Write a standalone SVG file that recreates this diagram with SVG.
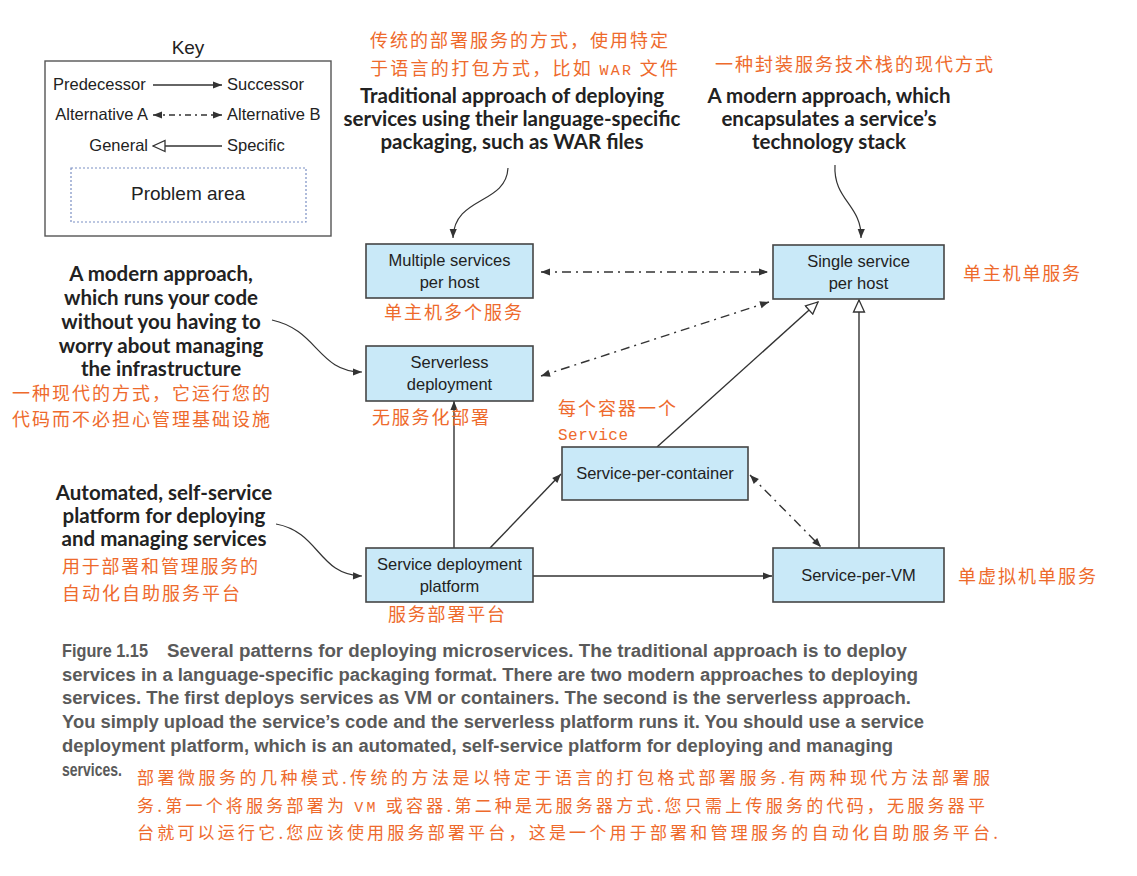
<svg xmlns="http://www.w3.org/2000/svg" width="1137" height="876" viewBox="0 0 1137 876">
<defs>
<style>
.box{fill:#c9e9f8;stroke:#454545;stroke-width:1.6}
.bt{font-family:"Liberation Sans",Arial,sans-serif;font-size:16.5px;fill:#222;text-anchor:middle}
.kt{font-family:"Liberation Sans",Arial,sans-serif;font-size:16.5px;fill:#222}
.ann{font-family:Lato,"Open Sans",sans-serif;font-weight:bold;font-size:20.5px;fill:#222;text-anchor:middle}
.cn{font-family:"Noto Sans CJK SC",sans-serif;font-size:18px;fill:#ee6a2c}
.cnc{font-family:"Noto Sans CJK SC",sans-serif;font-size:17px;fill:#ee6a2c}
.mono{font-family:"Liberation Mono",monospace;font-size:16px;fill:#ee6a2c}
.cap{font-family:"Liberation Sans",Arial,sans-serif;font-weight:bold;font-size:17.5px;fill:#5a5a5a}
.ln{fill:none;stroke:#333;stroke-width:1.4}
.dd{fill:none;stroke:#333;stroke-width:1.4;stroke-dasharray:9 5 2 5}
.cv{fill:none;stroke:#333;stroke-width:1.2}
</style>
<marker id="arr" viewBox="0 0 10 10" refX="10" refY="5" markerWidth="11" markerHeight="9" markerUnits="userSpaceOnUse" orient="auto-start-reverse"><path d="M0,1 L10,5 L0,9 z" fill="#333"/></marker>
<marker id="tri" viewBox="0 0 14 14" refX="13" refY="7" markerWidth="14" markerHeight="14" markerUnits="userSpaceOnUse" orient="auto"><path d="M1,1.5 L13,7 L1,12.5 z" fill="#fff" stroke="#333" stroke-width="1.3"/></marker>
</defs>
<rect width="1137" height="876" fill="#fff"/>

<g id="key">
<text x="188" y="54" class="kt" style="font-size:19px;text-anchor:middle">Key</text>
<rect x="45" y="61" width="286" height="175" fill="#fff" stroke="#555" stroke-width="1.4"/>
<text x="53" y="90" class="kt">Predecessor</text>
<line x1="153" y1="85" x2="222" y2="85" class="ln" marker-end="url(#arr)"/>
<text x="227" y="90" class="kt">Successor</text>
<text x="148" y="120" class="kt" style="text-anchor:end">Alternative A</text>
<line x1="153" y1="115" x2="222" y2="115" class="dd" style="stroke-dasharray:6 4 2 4" marker-start="url(#arr)" marker-end="url(#arr)"/>
<text x="227" y="120" class="kt">Alternative B</text>
<text x="148" y="151" class="kt" style="text-anchor:end">General</text>
<line x1="222" y1="146" x2="153" y2="146" class="ln" marker-end="url(#tri)"/>
<text x="227" y="151" class="kt">Specific</text>
<rect x="71" y="168" width="235" height="54" fill="none" stroke="#7b8fc4" stroke-width="1.2" stroke-dasharray="2 2"/>
<text x="188" y="200" class="kt" style="font-size:19px;text-anchor:middle">Problem area</text>
</g>

<g id="connectors">
<line x1="541" y1="272" x2="768" y2="272" class="dd" marker-start="url(#arr)" marker-end="url(#arr)"/>
<line x1="541" y1="376" x2="769" y2="302" class="dd" marker-start="url(#arr)" marker-end="url(#arr)"/>
<line x1="657" y1="447" x2="818" y2="302" class="ln" marker-end="url(#tri)"/>
<line x1="859" y1="548" x2="859" y2="300" class="ln" marker-end="url(#tri)"/>
<line x1="454" y1="548" x2="454" y2="401" class="ln" marker-end="url(#arr)"/>
<line x1="490" y1="548" x2="561" y2="474" class="ln" marker-end="url(#arr)"/>
<line x1="533" y1="576" x2="772" y2="576" class="ln" marker-end="url(#arr)"/>
<line x1="750" y1="475" x2="821" y2="547" class="dd" marker-start="url(#arr)" marker-end="url(#arr)"/>
<path d="M508,168 C506,205 454,196 453,238" class="cv" marker-end="url(#arr)"/>
<path d="M835,165 C833,200 862,205 861,238" class="cv" marker-end="url(#arr)"/>
<path d="M272,320 C318,330 318,372 362,372" class="cv" marker-end="url(#arr)"/>
<path d="M276,524 C320,532 318,575 362,576" class="cv" marker-end="url(#arr)"/>
</g>

<g id="multiple">
<rect x="366" y="244" width="167" height="54" class="box"/>
<text x="449.5" y="266" class="bt">Multiple services</text>
<text x="449.5" y="288" class="bt">per host</text>
<text x="384" y="319" class="cn" textLength="138">单主机多个服务</text>
</g>

<g id="single">
<rect x="773" y="245" width="171" height="54" class="box"/>
<text x="858.5" y="267" class="bt">Single service</text>
<text x="858.5" y="289" class="bt">per host</text>
<text x="963" y="280" class="cn" textLength="117">单主机单服务</text>
</g>

<g id="serverless">
<rect x="366" y="346" width="167" height="55" class="box"/>
<text x="449.5" y="368" class="bt">Serverless</text>
<text x="449.5" y="390" class="bt">deployment</text>
<text x="372" y="424" class="cn" textLength="117">无服务化部署</text>
</g>

<g id="container">
<rect x="562" y="447" width="186" height="53" class="box"/>
<text x="655" y="479" class="bt">Service-per-container</text>
<text x="558" y="415" class="cn" textLength="118">每个容器一个</text>
<text x="558" y="440" class="mono" textLength="70">Service</text>
</g>

<g id="platform">
<rect x="366" y="548" width="167" height="54" class="box"/>
<text x="449.5" y="570" class="bt">Service deployment</text>
<text x="449.5" y="592" class="bt">platform</text>
<text x="388" y="621" class="cn" textLength="117">服务部署平台</text>
</g>

<g id="vm">
<rect x="773" y="548" width="171" height="54" class="box"/>
<text x="858.5" y="581" class="bt">Service-per-VM</text>
<text x="958" y="583" class="cn" textLength="138">单虚拟机单服务</text>
</g>

<g id="annotations">
<text x="370" y="47" class="cn" textLength="298">传统的部署服务的方式，使用特定</text>
<text x="370" y="75" class="cn" textLength="308">于语言的打包方式，比如 <tspan class="mono" style="font-size:15px">WAR</tspan> 文件</text>
<text x="512" y="103" class="ann">Traditional approach of deploying</text>
<text x="512" y="126" class="ann">services using their language-specific</text>
<text x="512" y="149" class="ann">packaging, such as WAR files</text>

<text x="715" y="71" class="cn" textLength="278">一种封装服务技术栈的现代方式</text>
<text x="829" y="103" class="ann">A modern approach, which</text>
<text x="829" y="126" class="ann">encapsulates a service’s</text>
<text x="829" y="149" class="ann">technology stack</text>

<text x="161" y="281" class="ann">A modern approach,</text>
<text x="161" y="305" class="ann">which runs your code</text>
<text x="161" y="329" class="ann">without you having to</text>
<text x="161" y="353" class="ann">worry about managing</text>
<text x="161" y="376" class="ann">the infrastructure</text>
<text x="12" y="400" class="cn" textLength="258">一种现代的方式，它运行您的</text>
<text x="12" y="426" class="cn" textLength="258">代码而不必担心管理基础设施</text>

<text x="164" y="500" class="ann">Automated, self-service</text>
<text x="164" y="523" class="ann">platform for deploying</text>
<text x="164" y="546" class="ann">and managing services</text>
<text x="62" y="573" class="cn" textLength="196">用于部署和管理服务的</text>
<text x="62" y="600" class="cn" textLength="178">自动化自助服务平台</text>
</g>

<g id="caption">
<text x="62" y="657" class="cap" textLength="86" lengthAdjust="spacingAndGlyphs">Figure 1.15</text>
<text x="167" y="657" class="cap" textLength="740" lengthAdjust="spacingAndGlyphs">Several patterns for deploying microservices. The traditional approach is to deploy</text>
<text x="62" y="681" class="cap" textLength="856" lengthAdjust="spacingAndGlyphs">services in a language-specific packaging format. There are two modern approaches to deploying</text>
<text x="62" y="704" class="cap" textLength="849" lengthAdjust="spacingAndGlyphs">services. The first deploys services as VM or containers. The second is the serverless approach.</text>
<text x="62" y="728" class="cap" textLength="862" lengthAdjust="spacingAndGlyphs">You simply upload the service’s code and the serverless platform runs it. You should use a service</text>
<text x="62" y="752" class="cap" textLength="831" lengthAdjust="spacingAndGlyphs">deployment platform, which is an automated, self-service platform for deploying and managing</text>
<text x="62" y="776" class="cap" textLength="60" lengthAdjust="spacingAndGlyphs">services.</text>
<text x="137" y="784" class="cnc" textLength="853">部署微服务的几种模式.传统的方法是以特定于语言的打包格式部署服务.有两种现代方法部署服</text>
<text x="137" y="812" class="cnc" textLength="848">务.第一个将服务部署为 <tspan class="mono" style="font-size:15px">VM</tspan> 或容器.第二种是无服务器方式.您只需上传服务的代码，无服务器平</text>
<text x="137" y="839" class="cnc" textLength="861">台就可以运行它.您应该使用服务部署平台，这是一个用于部署和管理服务的自动化自助服务平台.</text>
</g>
</svg>
